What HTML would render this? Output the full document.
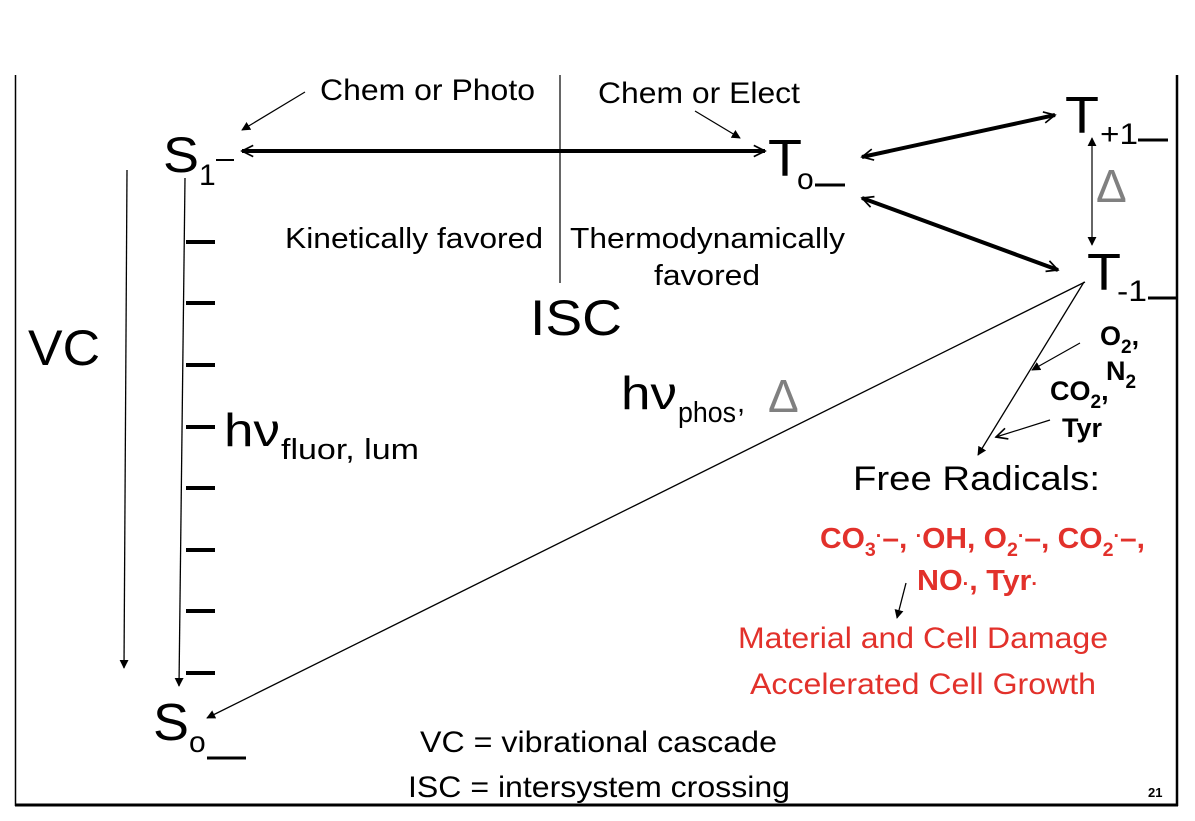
<!DOCTYPE html>
<html><head><meta charset="utf-8"><style>
html,body{margin:0;padding:0;background:#fff;}
svg{display:block;}
text{font-family:"Liberation Sans",Arial,sans-serif;fill:#000;}
.r{fill:#e2312b;}
.g{fill:#808080;}
</style></head><body>
<svg width="1195" height="821" viewBox="0 0 1195 821" xmlns="http://www.w3.org/2000/svg">
<defs>
<marker id="ah" viewBox="0 0 10 10" refX="9" refY="5" markerWidth="9" markerHeight="9" markerUnits="userSpaceOnUse" orient="auto-start-reverse"><path d="M0,0 L10,5 L0,10 z" fill="#000"/></marker>
<marker id="ao2" viewBox="0 0 10 10" refX="9" refY="5" markerWidth="14" markerHeight="14" markerUnits="userSpaceOnUse" orient="auto-start-reverse"><path d="M1,1 L9,5 L1,9" fill="none" stroke="#000" stroke-width="1.2"/></marker>
</defs>
<line x1="15.5" y1="75" x2="15.5" y2="806" stroke="#000" stroke-width="1.5"/>
<line x1="1177" y1="75" x2="1177" y2="806" stroke="#000" stroke-width="2.5"/>
<line x1="15" y1="805" x2="1178" y2="805" stroke="#000" stroke-width="3"/>
<line x1="560" y1="75" x2="560" y2="283" stroke="#000" stroke-width="1.2"/>

<text x="320" y="100" font-size="30" textLength="215" lengthAdjust="spacingAndGlyphs">Chem or Photo</text>
<line x1="305" y1="92" x2="242" y2="130" stroke="#000" stroke-width="1.2" marker-end="url(#ah)"/>
<text x="598" y="103" font-size="30" textLength="202" lengthAdjust="spacingAndGlyphs">Chem or Elect</text>
<line x1="695" y1="111" x2="740" y2="138" stroke="#000" stroke-width="1.2" marker-end="url(#ah)"/>

<text x="163" y="172" font-size="50" textLength="36" lengthAdjust="spacingAndGlyphs">S</text>
<text x="199" y="185" font-size="30">1</text>
<line x1="216" y1="160" x2="234" y2="160" stroke="#000" stroke-width="2"/>
<line x1="242" y1="151" x2="765" y2="151" stroke="#000" stroke-width="4" marker-start="url(#ao2)" marker-end="url(#ao2)"/>

<text x="768" y="176" font-size="52" textLength="34" lengthAdjust="spacingAndGlyphs">T</text>
<text x="797" y="189" font-size="30">o</text>
<line x1="815" y1="185" x2="845" y2="185" stroke="#000" stroke-width="3"/>

<text x="1065" y="133" font-size="52" textLength="34" lengthAdjust="spacingAndGlyphs">T</text>
<text x="1100" y="144" font-size="30" textLength="38" lengthAdjust="spacingAndGlyphs">+1</text>
<line x1="1138" y1="140" x2="1168" y2="140" stroke="#000" stroke-width="3"/>
<line x1="862" y1="157" x2="1055" y2="115" stroke="#000" stroke-width="4" marker-start="url(#ao2)" marker-end="url(#ao2)"/>
<line x1="862" y1="198" x2="1058" y2="270" stroke="#000" stroke-width="4" marker-start="url(#ao2)" marker-end="url(#ao2)"/>
<line x1="1092" y1="138" x2="1092" y2="245" stroke="#000" stroke-width="1.2" marker-start="url(#ah)" marker-end="url(#ah)"/>
<text x="1096" y="202" font-size="46" class="g">Δ</text>

<text x="1087" y="290" font-size="52" textLength="34" lengthAdjust="spacingAndGlyphs">T</text>
<text x="1117" y="301" font-size="30" textLength="30" lengthAdjust="spacingAndGlyphs">-1</text>
<line x1="1148" y1="298" x2="1177" y2="298" stroke="#000" stroke-width="3"/>

<text x="285" y="248" font-size="29" textLength="258" lengthAdjust="spacingAndGlyphs">Kinetically favored</text>
<text x="570" y="248" font-size="29" textLength="275" lengthAdjust="spacingAndGlyphs">Thermodynamically</text>
<text x="654" y="285" font-size="29" textLength="106" lengthAdjust="spacingAndGlyphs">favored</text>
<text x="530" y="335" font-size="50" textLength="92" lengthAdjust="spacingAndGlyphs">ISC</text>
<text x="28" y="365" font-size="50" textLength="72" lengthAdjust="spacingAndGlyphs">VC</text>

<line x1="127" y1="170" x2="124" y2="668" stroke="#000" stroke-width="1.3" marker-end="url(#ah)"/>
<line x1="185" y1="178" x2="179" y2="686" stroke="#000" stroke-width="1.3" marker-end="url(#ah)"/>
<g stroke="#000" stroke-width="4">
<line x1="186" y1="242" x2="215" y2="242"/>
<line x1="186" y1="303" x2="215" y2="303"/>
<line x1="186" y1="365" x2="215" y2="365"/>
<line x1="186" y1="427" x2="215" y2="427"/>
<line x1="186" y1="488" x2="215" y2="488"/>
<line x1="186" y1="550" x2="215" y2="550"/>
<line x1="186" y1="611" x2="215" y2="611"/>
<line x1="186" y1="673" x2="215" y2="673"/>
</g>
<text x="224" y="446" font-size="46" textLength="56" lengthAdjust="spacingAndGlyphs">hν</text>
<text x="281" y="459" font-size="29" textLength="138" lengthAdjust="spacingAndGlyphs">fluor, lum</text>
<text x="621" y="409" font-size="46" textLength="56" lengthAdjust="spacingAndGlyphs">hν</text>
<text x="678" y="422" font-size="29" textLength="58" lengthAdjust="spacingAndGlyphs">phos</text>
<text x="737" y="412" font-size="29">,</text>
<text x="768" y="412" font-size="46" class="g">Δ</text>

<line x1="1085" y1="282" x2="207" y2="718" stroke="#000" stroke-width="1.3" marker-end="url(#ah)"/>
<line x1="1084" y1="282" x2="978" y2="455" stroke="#000" stroke-width="1.3" marker-end="url(#ah)"/>
<line x1="1080" y1="343" x2="1032" y2="370" stroke="#000" stroke-width="1.2" marker-end="url(#ah)"/>
<line x1="1050" y1="420" x2="996" y2="437" stroke="#000" stroke-width="1.2" marker-end="url(#ao2)"/>

<text x="1100" y="345" font-size="27" font-weight="bold">O<tspan font-size="19" dy="8">2</tspan><tspan dy="-8">,</tspan></text>
<text x="1106" y="380" font-size="27" font-weight="bold">N<tspan font-size="19" dy="8">2</tspan></text>
<text x="1050" y="400" font-size="27" font-weight="bold">CO<tspan font-size="19" dy="8">2</tspan><tspan dy="-8">,</tspan></text>
<text x="1062" y="437" font-size="27" font-weight="bold">Tyr</text>

<text x="853" y="490" font-size="34" textLength="247" lengthAdjust="spacingAndGlyphs">Free Radicals:</text>
<text x="820" y="548" font-size="29" font-weight="bold" class="r" textLength="325" lengthAdjust="spacingAndGlyphs">CO<tspan font-size="19" dy="8">3</tspan><tspan font-size="19" dy="-14">·</tspan><tspan font-size="29" dy="6">–, </tspan><tspan font-size="19" dy="-6">·</tspan><tspan dy="6">OH, O</tspan><tspan font-size="19" dy="8">2</tspan><tspan font-size="19" dy="-14">·</tspan><tspan dy="6">–, CO</tspan><tspan font-size="19" dy="8">2</tspan><tspan font-size="19" dy="-14">·</tspan><tspan dy="6">–,</tspan></text>
<text x="917" y="590" font-size="29" font-weight="bold" class="r" textLength="121" lengthAdjust="spacingAndGlyphs">NO<tspan font-size="19">·</tspan>, Tyr<tspan font-size="19">·</tspan></text>
<line x1="906" y1="583" x2="897" y2="618" stroke="#000" stroke-width="1.3" marker-end="url(#ah)"/>
<text x="738" y="648" font-size="30" class="r" textLength="370" lengthAdjust="spacingAndGlyphs">Material and Cell Damage</text>
<text x="750" y="694" font-size="30" class="r" textLength="346" lengthAdjust="spacingAndGlyphs">Accelerated Cell Growth</text>

<text x="153" y="740" font-size="52" textLength="36" lengthAdjust="spacingAndGlyphs">S</text>
<text x="189" y="752" font-size="30">o</text>
<line x1="207" y1="758" x2="246" y2="758" stroke="#000" stroke-width="3"/>

<text x="420" y="752" font-size="30" textLength="357" lengthAdjust="spacingAndGlyphs">VC = vibrational cascade</text>
<text x="408" y="797" font-size="30" textLength="382" lengthAdjust="spacingAndGlyphs">ISC = intersystem crossing</text>
<text x="1148" y="797" font-size="13" font-weight="bold">21</text>
</svg>
</body></html>
